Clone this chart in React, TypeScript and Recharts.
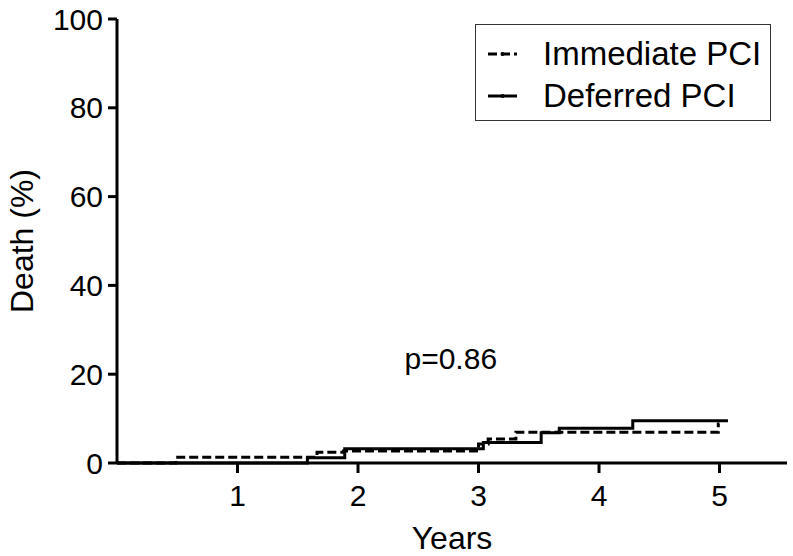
import { LineChart, Line, XAxis, YAxis, Legend, ReferenceDot } from 'recharts';

const FONT = '"Liberation Sans", Arial, Helvetica, sans-serif';

// Kaplan-Meier steps (years, % dead)
const immediateYears = [0, 0.49, 1.66, 1.88, 3.0, 3.08, 3.31, 4.99, 5.0];
const immediateDeath = [0, 1.3, 2.4, 2.7, 4.3, 5.4, 6.9, 8.8, 8.8];
const deferredYears = [0, 1.58, 1.89, 3.04, 3.52, 3.67, 4.28, 5.07];
const deferredDeath = [0, 1.2, 3.2, 4.6, 6.8, 7.8, 9.5, 9.5];

const seriesNames = ['Immediate PCI', 'Deferred PCI'];
const xTicks = [1, 2, 3, 4, 5];
const yTicks = [0, 20, 40, 60, 80, 100];

const immediateData = immediateYears.map((t, i) => ({ t, v: immediateDeath[i] }));
const deferredData = deferredYears.map((t, i) => ({ t, v: deferredDeath[i] }));

function LegendBox({ payload }: any) {
  const items = [...(payload || [])].sort(
    (a: any, b: any) => seriesNames.indexOf(a.value) - seriesNames.indexOf(b.value)
  );
  return (
    <div
      style={{
        border: '1.5px solid #333',
        width: 296,
        height: 97,
        boxSizing: 'border-box',
        paddingTop: 8,
        fontFamily: FONT,
        background: '#fff',
      }}
    >
      {items.map((entry: any) => (
        <div key={entry.value} style={{ display: 'flex', alignItems: 'center', height: 42 }}>
          <svg width={29} height={10} style={{ marginLeft: 12, marginRight: 26 }}>
            <line
              x1={0}
              y1={5}
              x2={29}
              y2={5}
              stroke="#000"
              strokeWidth={3}
              strokeDasharray={entry.payload?.strokeDasharray}
            />
            <circle cx={14.5} cy={5} r={2} fill="#000" />
          </svg>
          <span style={{ fontSize: 33, lineHeight: '42px', color: '#000' }}>{entry.value}</span>
        </div>
      ))}
    </div>
  );
}

function YLabel({ viewBox }: any) {
  const x = viewBox.x + 22;
  const y = viewBox.y + viewBox.height / 2;
  return (
    <text
      x={x}
      y={y}
      transform={`rotate(-90 ${x} ${y})`}
      textAnchor="middle"
      dominantBaseline="central"
      fontSize={32}
      fontFamily={FONT}
      fill="#000"
    >
      Death (%)
    </text>
  );
}

function XLabel({ viewBox }: any) {
  const x = viewBox.x + viewBox.width / 2;
  return (
    <text x={x} y={549} textAnchor="middle" fontSize={32} fontFamily={FONT} fill="#000">
      Years
    </text>
  );
}

export default function App() {
  const tickStyle = { fill: '#000', fontSize: 30, fontFamily: FONT };
  return (
    <div style={{ position: 'absolute', left: 0, top: 0, background: '#fff' }}>
      <LineChart width={793} height={556} margin={{ top: 19, right: 6, bottom: 0, left: 0 }}>
        <XAxis
          type="number"
          dataKey="t"
          domain={[0, 5.56]}
          ticks={xTicks}
          allowDataOverflow
          height={93}
          stroke="#000"
          strokeWidth={3}
          tickSize={10}
          tickMargin={12}
          tick={tickStyle}
          tickLine={{ stroke: '#000', strokeWidth: 3 }}
          label={{ content: XLabel }}
        />
        <YAxis
          type="number"
          domain={[0, 100]}
          ticks={yTicks}
          width={117}
          stroke="#000"
          strokeWidth={3}
          tickSize={9}
          tickMargin={5}
          tick={tickStyle}
          tickLine={{ stroke: '#000', strokeWidth: 3 }}
          label={{ content: YLabel }}
        />
        <Legend
          layout="horizontal"
          verticalAlign="middle"
          align="center"
          wrapperStyle={{ left: 475, top: 24, width: 296 }}
          content={LegendBox}
        />
        <Line
          data={immediateData}
          dataKey="v"
          name={seriesNames[0]}
          type="stepAfter"
          stroke="#000"
          strokeWidth={3}
          strokeDasharray="9 4"
          dot={false}
          isAnimationActive={false}
        />
        <Line
          data={deferredData}
          dataKey="v"
          name={seriesNames[1]}
          type="stepAfter"
          stroke="#000"
          strokeWidth={3}
          dot={false}
          isAnimationActive={false}
        />
        <ReferenceDot
          x={2.77}
          y={23.5}
          r={0}
          fill="none"
          stroke="none"
          label={{ value: 'p=0.86', position: 'center', fontSize: 30, fontFamily: FONT, fill: '#000' }}
        />
      </LineChart>
    </div>
  );
}
